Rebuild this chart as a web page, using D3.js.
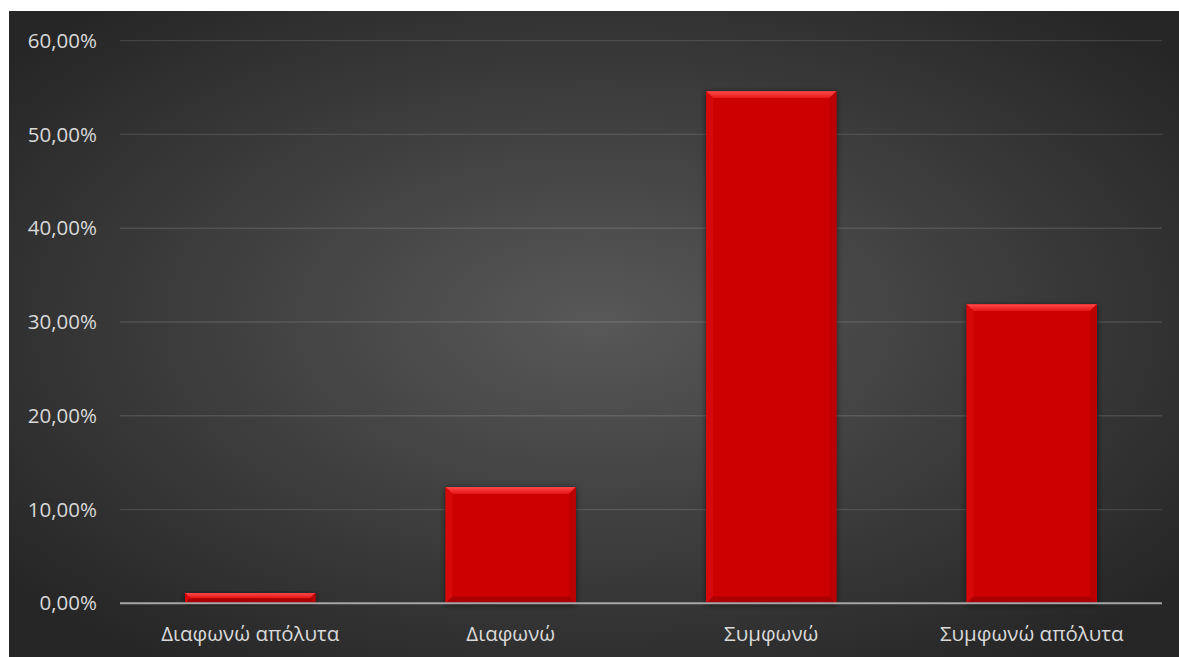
<!DOCTYPE html>
<html>
<head>
<meta charset="utf-8">
<script src="https://cdn.jsdelivr.net/npm/d3@7"></script>
<style>
  html, body { margin: 0; padding: 0; background: #ffffff; }
  svg { display: block; }
</style>
</head>
<body>
<svg id="chart" width="1179" height="657"></svg>
<script>
// Survey responses: share of each answer
const categories = ["Διαφωνώ απόλυτα", "Διαφωνώ", "Συμφωνώ", "Συμφωνώ απόλυτα"];
const values = [1.1, 12.4, 54.6, 31.9];
const yTicks = [0, 10, 20, 30, 40, 50, 60];

const frame = { x: 9, y: 11, w: 1170, h: 646 };
const plot = { left: 120, right: 1162, top: 40.7, bottom: 603.3 };

const svg = d3.select("#chart");
const defs = svg.append("defs");

// background: soft radial light in the middle
const bg = defs.append("radialGradient").attr("id", "bgGrad")
  .attr("cx", "50%").attr("cy", "48%").attr("r", "64%");
bg.append("stop").attr("offset", "0%").attr("stop-color", "#585858");
bg.append("stop").attr("offset", "100%").attr("stop-color", "#262626");

// top bevel gradient
const topGrad = defs.append("linearGradient").attr("id", "topGrad")
  .attr("x1", 0).attr("y1", 0).attr("x2", 0).attr("y2", 1);
topGrad.append("stop").attr("offset", "0%").attr("stop-color", "#ff4a4a");
topGrad.append("stop").attr("offset", "100%").attr("stop-color", "#e41414");

const shadow = defs.append("filter").attr("id", "barShadow")
  .attr("x", "-20%").attr("y", "-20%").attr("width", "140%").attr("height", "140%");
shadow.append("feGaussianBlur").attr("in", "SourceAlpha").attr("stdDeviation", 3).attr("result", "b");
shadow.append("feOffset").attr("in", "b").attr("dx", 0).attr("dy", 1).attr("result", "o");
shadow.append("feComponentTransfer").attr("in", "o").attr("result", "s")
  .append("feFuncA").attr("type", "linear").attr("slope", 0.6);
const merge = shadow.append("feMerge");
merge.append("feMergeNode").attr("in", "s");
merge.append("feMergeNode").attr("in", "SourceGraphic");

svg.append("rect")
  .attr("x", frame.x).attr("y", frame.y)
  .attr("width", frame.w).attr("height", frame.h)
  .attr("fill", "url(#bgGrad)");

const x = d3.scaleBand().domain(categories)
  .range([plot.left, plot.right]).paddingInner(0.5).paddingOuter(0.25);
const y = d3.scaleLinear().domain([0, 60]).range([plot.bottom, plot.top]);

const font = "'Open Sans', 'DejaVu Sans', sans-serif";
const fontSize = "20.5px";

// horizontal gridlines
svg.append("g").selectAll("line").data(yTicks.filter(t => t > 0)).join("line")
  .attr("x1", plot.left).attr("x2", plot.right)
  .attr("y1", d => y(d)).attr("y2", d => y(d))
  .attr("stroke", "#ffffff").attr("stroke-opacity", 0.12).attr("stroke-width", 1.3);

// y axis labels
const yAxis = d3.axisLeft(y).tickValues(yTicks).tickSize(0).tickPadding(0)
  .tickFormat(d => d3.format(".2f")(d).replace(".", ",") + "%");
const gy = svg.append("g").attr("transform", `translate(97,0)`).call(yAxis);
gy.select(".domain").remove();
gy.selectAll("text").attr("fill", "#d9d9d9").style("font-family", font).style("font-size", fontSize);

// bars with a bevelled face
const bev = 7;
const bars = svg.append("g").selectAll("g.bar").data(categories.map((c, i) => ({ c, v: values[i] })))
  .join("g").attr("class", "bar");

bars.each(function (d) {
  const g = d3.select(this);
  const x0 = x(d.c), x1 = x0 + x.bandwidth();
  const y0 = y(d.v), y1 = y(0);
  const b = Math.min(bev, (y1 - y0) / 2);
  g.append("rect").attr("x", x0).attr("y", y0).attr("width", x1 - x0).attr("height", y1 - y0)
    .attr("fill", "#cc0000").attr("filter", "url(#barShadow)");
  // top facet
  g.append("polygon").attr("points", [[x0, y0], [x1, y0], [x1 - b, y0 + b], [x0 + b, y0 + b]].join(" "))
    .attr("fill", "url(#topGrad)");
  // left facet
  g.append("polygon").attr("points", [[x0, y0], [x0 + b, y0 + b], [x0 + b, y1 - b], [x0, y1]].join(" "))
    .attr("fill", "#d80808");
  // right facet
  g.append("polygon").attr("points", [[x1, y0], [x1, y1], [x1 - b, y1 - b], [x1 - b, y0 + b]].join(" "))
    .attr("fill", "#ba0000");
  // bottom facet
  g.append("polygon").attr("points", [[x0, y1], [x1, y1], [x1 - b, y1 - b], [x0 + b, y1 - b]].join(" "))
    .attr("fill", "#aa0000");
  // face
  g.append("rect").attr("x", x0 + b).attr("y", y0 + b)
    .attr("width", Math.max(0, x1 - x0 - 2 * b)).attr("height", Math.max(0, y1 - y0 - 2 * b))
    .attr("fill", "#cc0000");
});

// baseline
svg.append("line").attr("x1", plot.left).attr("x2", plot.right)
  .attr("y1", y(0)).attr("y2", y(0))
  .attr("stroke", "#a6a6a6").attr("stroke-width", 2);

// category labels
const xAxis = d3.axisBottom(x).tickSize(0).tickPadding(0);
const gx = svg.append("g").attr("transform", `translate(0,626)`).call(xAxis);
gx.select(".domain").remove();
gx.selectAll("text").attr("fill", "#d9d9d9").style("font-family", font).style("font-size", fontSize);
</script>
</body>
</html>
